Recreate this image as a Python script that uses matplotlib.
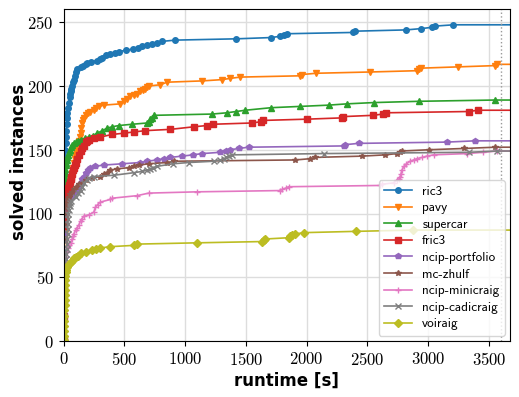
import matplotlib
matplotlib.use("Agg")
import matplotlib.pyplot as plt
import numpy as np

plt.rcParams['axes.formatter.use_mathtext'] = True

TIMEOUT = 3600
XMAX = TIMEOUT * 1.02
YMAX = 248 * 1.05

# runtimes [s] and number of solved instances
ric3_t = [0.5, 1, 2, 3, 5, 8, 10, 12, 14, 16, 18, 20, 22, 25, 28, 30, 37, 44, 50, 55,
          60, 64, 71, 78, 85, 92, 99, 115, 140, 160, 181, 195, 230, 277, 300, 318, 350, 386,
          420, 455, 510, 573, 610, 647, 690, 729, 770, 811, 920, 1419, 1707, 1783, 1810, 1838,
          2380, 2394, 2816, 2939, 3029, 3057, 3207]
ric3_n = [1, 20, 45, 70, 90, 110, 120, 130, 140, 150, 155, 160, 165, 170, 175, 179, 183, 187, 191, 194,
          196, 198, 200, 203, 205, 208, 211, 213, 215, 216, 217, 218, 219, 220, 221, 222, 224, 225,
          226, 227, 228, 229, 230, 231, 232, 233, 234, 235, 236, 237, 238, 239, 240, 241,
          242, 243, 244, 245, 246, 247, 248]

pavy_t = [0.5, 2, 5, 10, 15, 22, 30, 38, 47, 56, 66, 75, 84, 92, 98, 103, 107, 110, 114, 124,
          133, 140, 147, 153, 160, 167, 181, 200, 220, 249, 270, 290, 331, 468, 500, 523, 550, 578,
          605, 633, 655, 674, 690, 701, 797, 852, 1140, 1304, 1372, 1454, 1947, 1961, 2079, 2523,
          2906, 2925, 2939, 3243, 3550, 3563]
pavy_n = [1, 30, 60, 85, 100, 106, 112, 117, 122, 127, 132, 136, 140, 143, 146, 148, 150, 152, 154, 157,
          160, 163, 167, 171, 173, 175, 177, 179, 180, 181, 183, 184, 185, 186, 188, 190, 192, 193,
          194, 196, 197, 198, 199, 200, 201, 203, 204, 205, 206, 207, 208, 209, 210, 211,
          212, 213, 214, 215, 216, 217]

supercar_t = [0.3, 0.6, 1, 2, 3, 4, 5, 6, 7.5, 9, 10, 12, 13.5, 15, 16, 20, 23, 25, 30, 35,
              44, 51, 58, 71, 85, 99, 120, 140, 175, 208, 240, 277, 320, 359, 400, 455, 564, 688,
              701, 715, 728, 742, 1222, 1345, 1420, 1496, 1709, 1947, 2180, 2331, 2550, 2920, 3550]
supercar_n = [1, 20, 40, 60, 80, 90, 100, 105, 110, 115, 120, 124, 128, 132, 135, 138, 140, 142, 144, 146,
              148, 150, 152, 154, 155, 156, 157, 158, 159, 160, 161, 163, 165, 167, 168, 169, 170, 171,
              172, 174, 175, 177, 178, 179, 180, 181, 183, 184, 185, 186, 187, 188, 189]

fric3_t = [0.3, 1, 1.5, 2, 3, 3.5, 4, 5, 8, 12, 16, 20, 25, 30, 37, 44, 51, 58, 64, 70,
           78, 85, 92, 100, 112, 126, 140, 153, 167, 181, 195, 208, 249, 304, 400, 496, 583, 674,
           879, 1071, 1180, 1227, 1550, 1624, 1640, 2002, 2290, 2300, 2545, 2627, 2654, 3336, 3407]
fric3_n = [1, 20, 40, 60, 80, 90, 95, 100, 104, 108, 111, 113, 116, 118, 120, 122, 125, 127, 129, 131,
           134, 136, 138, 140, 143, 146, 149, 151, 153, 156, 157, 158, 159, 160, 162, 163, 164, 165,
           166, 168, 169, 170, 171, 172, 173, 174, 175, 176, 177, 178, 179, 180, 181]

portfolio_t = [0.3, 1, 2, 4, 8, 15, 20, 30, 40, 55, 70, 85, 100, 125, 140, 153, 167, 181, 200, 222,
               263, 331, 482, 633, 688, 770, 830, 879, 975, 1066, 1140, 1290, 1340, 1372, 1441, 1523,
               2303, 2317, 2427, 3152, 3385]
portfolio_n = [1, 30, 60, 85, 100, 104, 106, 108, 110, 112, 114, 116, 118, 121, 124, 127, 129, 132, 134, 136,
               137, 138, 139, 140, 141, 142, 143, 144, 145, 146, 147, 148, 149, 150, 151, 152,
               153, 154, 155, 156, 157]

zhulf_t = [0.3, 1, 2, 3, 5, 7, 8, 12, 15, 20, 30, 42, 55, 70, 85, 105, 126, 181, 236, 304,
           331, 359, 386, 441, 540, 580, 619, 700, 852, 907, 1906, 2030, 2071, 2454, 2646, 2742,
           2770, 2783, 3002, 3290, 3550]
zhulf_n = [1, 20, 40, 60, 80, 92, 100, 104, 106, 108, 111, 113, 115, 117, 119, 121, 123, 126, 128, 129,
           131, 132, 134, 135, 136, 137, 138, 139, 140, 141, 142, 143, 144, 145, 146, 147,
           148, 149, 150, 151, 152]

minicraig_t = [0.3, 1, 3, 6, 10, 16, 22, 30, 38, 45, 58, 71, 78, 85, 100, 113, 126, 140, 153, 167,
               208, 249, 263, 280, 304, 386, 400, 605, 701, 1099, 1783, 1800, 1830, 1851, 2605, 2618,
               2714, 2740, 2760, 2769, 2775, 2783, 2800, 2820, 2851, 2880, 2906, 2950, 2988, 3043,
               3317, 3450, 3563]
minicraig_n = [1, 15, 30, 45, 55, 62, 66, 70, 73, 75, 77, 80, 82, 84, 87, 89, 91, 94, 96, 98,
               99, 101, 105, 107, 109, 111, 112, 114, 116, 117, 118, 119, 120, 121, 122, 123,
               124, 126, 127, 129, 131, 134, 137, 139, 141, 142, 143, 144, 145, 146,
               147, 148, 149]

cadicraig_t = [0.3, 1, 2, 3, 5, 8, 11, 15, 18, 21, 24, 27, 29, 31, 33, 35, 37, 39, 41, 44,
               50, 56, 65, 100, 120, 140, 153, 167, 190, 208, 249, 413, 578, 647, 688, 715, 740, 770,
               900, 1030, 1235, 1290, 1317, 1340, 1358, 1386, 2139, 3331, 3563]
cadicraig_n = [1, 10, 20, 30, 40, 48, 52, 56, 60, 64, 68, 72, 76, 80, 84, 88, 92, 96, 100, 103,
               106, 108, 110, 113, 116, 118, 121, 124, 126, 128, 129, 130, 132, 133, 134, 135, 136, 137,
               139, 140, 141, 142, 143, 144, 145, 146, 147, 148, 149]

voiraig_t = [2, 3, 4, 5, 6, 7, 8, 9, 10, 11, 12, 13, 14, 16, 19, 24, 30, 40, 58, 71,
             85, 99, 120, 140, 181, 236, 270, 304, 386, 578, 605, 1099, 1632, 1650, 1660, 1851,
             1865, 1879, 1906, 1980, 2405, 2878]
voiraig_n = [1, 4, 8, 12, 16, 20, 24, 28, 32, 36, 40, 44, 48, 51, 54, 56, 58, 60, 62, 63,
             65, 66, 67, 69, 70, 71, 72, 73, 74, 75, 76, 77, 78, 79, 80, 81,
             82, 83, 84, 85, 86, 87]

series = [
    ("ric3", ric3_t, ric3_n, "o"),
    ("pavy", pavy_t, pavy_n, "v"),
    ("supercar", supercar_t, supercar_n, "^"),
    ("fric3", fric3_t, fric3_n, "s"),
    ("ncip-portfolio", portfolio_t, portfolio_n, "p"),
    ("mc-zhulf", zhulf_t, zhulf_n, "*"),
    ("ncip-minicraig", minicraig_t, minicraig_n, "+"),
    ("ncip-cadicraig", cadicraig_t, cadicraig_n, "x"),
    ("voiraig", voiraig_t, voiraig_n, "D"),
]

fig = plt.figure(figsize=(5.19, 3.97), dpi=100)
ax = fig.add_axes([63.5 / 519, 1 - 341 / 397, (510 - 63.5) / 519, (341 - 9) / 397])

for name, t, n, m in series:
    # last value carried on to the right border
    x = np.append(t, XMAX * 1.05)
    y = np.append(n, n[-1])
    ax.plot(x, y, marker=m, markersize=4, markevery=list(range(len(t))),
            linewidth=1.2, label=name)

ax.axvline(TIMEOUT, color="#999999", linestyle=":", linewidth=1)

ax.set_xlim(0, XMAX)
ax.set_ylim(0, YMAX)
ax.set_xticks(np.arange(0, 3501, 500))
ax.set_yticks(np.arange(0, 251, 50))
ax.grid(True, color="#dddddd", linewidth=1)
ax.set_axisbelow(True)
ax.tick_params(direction="out", length=3.5, labelsize=12)
for lab in ax.get_xticklabels() + ax.get_yticklabels():
    lab.set_fontfamily("cmr10")

ax.set_xlabel("runtime [s]", fontsize=12, fontweight="bold", family="DejaVu Sans", labelpad=3)
ax.set_ylabel("solved instances", fontsize=12, fontweight="bold", family="DejaVu Sans")
ax.yaxis.set_label_coords(-0.08, 0.54)

ax.legend(loc="lower right", prop={"family": "cmss10", "size": 9.5}, framealpha=0.8,
          handlelength=2.1, labelspacing=0.33, borderaxespad=0.4)

fig.savefig("out.png", dpi=100)
